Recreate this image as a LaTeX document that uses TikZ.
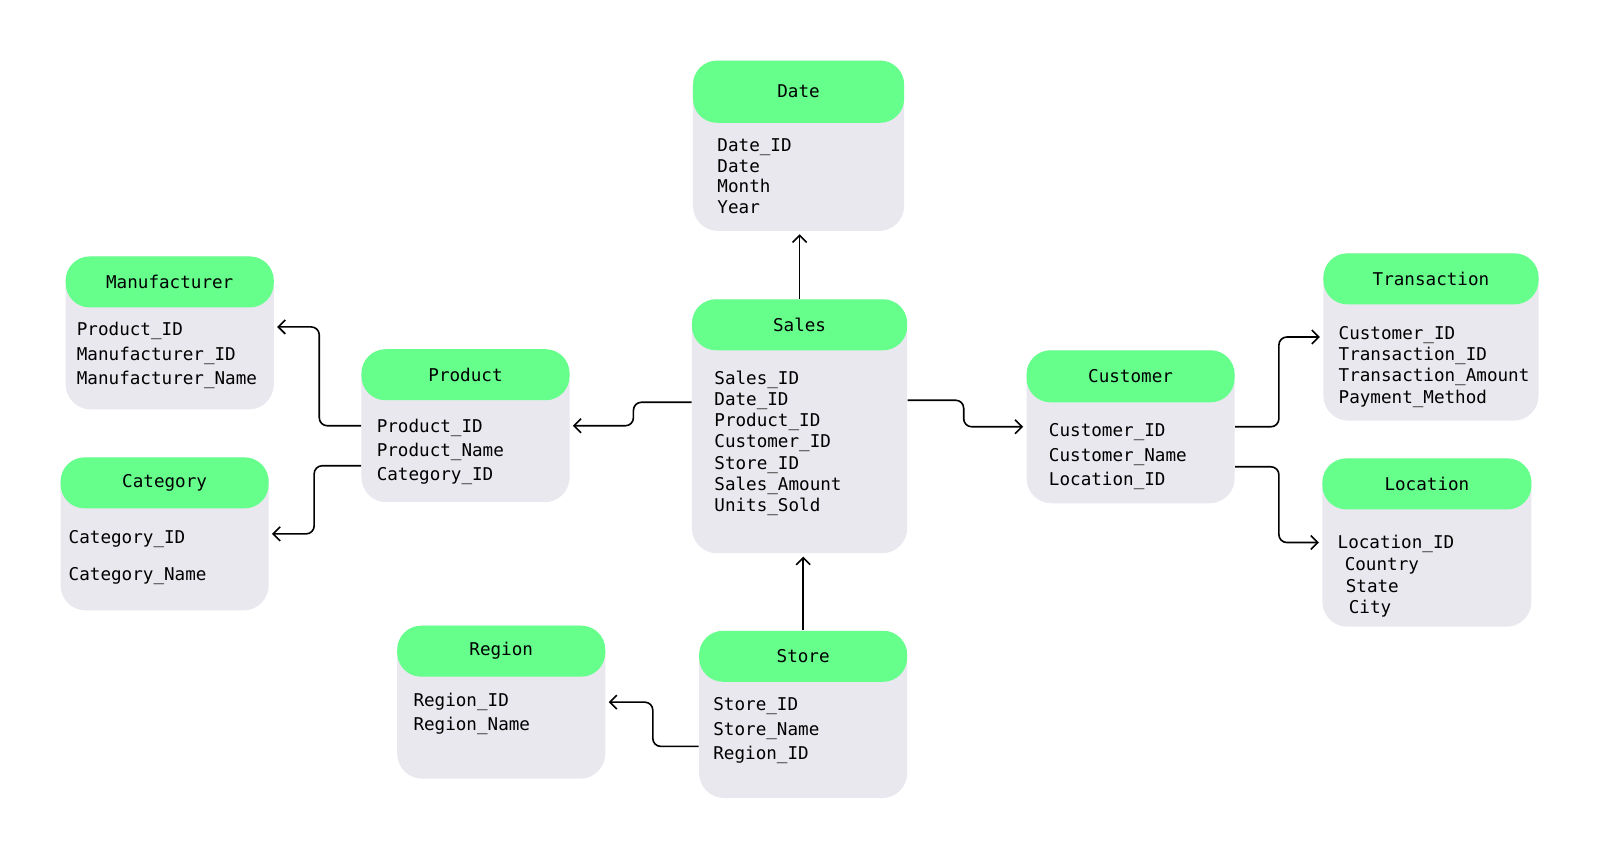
\documentclass[tikz,border=0pt]{standalone}
\usepackage{fontspec}
\setmonofont{DejaVu Sans Mono}
\usetikzlibrary{arrows.meta}
\definecolor{headgreen}{HTML}{66FF8C}
\definecolor{bodygray}{HTML}{E8E8EE}

\begin{document}
\begin{tikzpicture}[x=0.51pt, y=-0.51pt, >={Straight Barb[length=3.5pt,width=7pt]},
    tablebody/.style={fill=bodygray, rounded corners=12.5pt, inner sep=0pt, anchor=north west},
    tablehead/.style={fill=headgreen, rounded corners=12pt, inner sep=0pt, anchor=north west, font=\ttfamily\fontsize{8.8}{10}\selectfont},
    attr/.style={inner sep=0pt, anchor=base west, font=\ttfamily\fontsize{8.8}{10}\selectfont},
    link/.style={->, line width=0.8pt, rounded corners=4pt, shorten >=1.5pt}]

    \useasboundingbox (0,0) rectangle (1568.6,842.2);

    % Tables: name/left/top/width/height/header height/title.
    \foreach \n/\x/\y/\w/\h/\hh/\t in {
        date/679/59/207/167/61/Date,
        sales/678/293/211/249/50/Sales,
        manufacturer/64/251/204/150/50/Manufacturer,
        product/354/342/204/150/50/Product,
        category/59/448/204/150/50/Category,
        region/389/613/204/150/50/Region,
        store/685/618/204/164/50/Store,
        customer/1006/343/204/150/51/Customer,
        transaction/1297/248/211/164/50/Transaction,
        location/1296/449/205/165/50/Location}
    {
        \node[tablebody, minimum width=\w*0.51pt, minimum height=\h*0.51pt] (\n) at (\x,\y) {};
        \node[tablehead, minimum width=\w*0.51pt, minimum height=\hh*0.51pt] (\n-head) at (\x,\y) {\t};
    }

    % Date attributes.
    \foreach \a [count=\i] in {Date\_ID,Date,Month,Year}
        \node[attr] (date-\i) at (703,{149+20*(\i-1)}) {\a};

    % Sales attributes.
    \foreach \a [count=\i] in {Sales\_ID,Date\_ID,Product\_ID,Customer\_ID,Store\_ID,Sales\_Amount,Units\_Sold}
        \node[attr] (sales-\i) at (700,{377+20.7*(\i-1)}) {\a};

    % Manufacturer attributes.
    \foreach \a [count=\i] in {Product\_ID,Manufacturer\_ID,Manufacturer\_Name}
        \node[attr] (manufacturer-\i) at (75,{329+24*(\i-1)}) {\a};

    % Product attributes.
    \foreach \a [count=\i] in {Product\_ID,Product\_Name,Category\_ID}
        \node[attr] (product-\i) at (369,{424+23.5*(\i-1)}) {\a};

    % Category attributes.
    \foreach \a [count=\i] in {Category\_ID,Category\_Name}
        \node[attr] (category-\i) at (67,{533+36*(\i-1)}) {\a};

    % Region attributes.
    \foreach \a [count=\i] in {Region\_ID,Region\_Name}
        \node[attr] (region-\i) at (405,{693+23*(\i-1)}) {\a};

    % Store attributes.
    \foreach \a [count=\i] in {Store\_ID,Store\_Name,Region\_ID}
        \node[attr] (store-\i) at (699,{697+24*(\i-1)}) {\a};

    % Customer attributes.
    \foreach \a [count=\i] in {Customer\_ID,Customer\_Name,Location\_ID}
        \node[attr] (customer-\i) at (1028,{428+24*(\i-1)}) {\a};

    % Transaction attributes.
    \foreach \a [count=\i] in {Customer\_ID,Transaction\_ID,Transaction\_Amount,Payment\_Method}
        \node[attr] (transaction-\i) at (1312,{333+20.7*(\i-1)}) {\a};

    % Location attributes.
    \foreach \a/\dx [count=\i] in {Location\_ID/0,Country/7,State/8,City/11}
        \node[attr] (location-\i) at ({1311+\dx},{538+21.3*(\i-1)}) {\a};

    % Links from the fact table.
    \draw[link] (sales.north) -- (sales.north |- date.south);
    \draw[link] (store.north) -- (store.north |- sales.south);
    \draw[link] ([yshift=12pt]sales.west) -- ++(-57,0) |- (product.east);
    \draw[link] ([yshift=13pt]sales.east) -- ++(55,0) |- (customer.west);

    % Links between dimensions.
    \draw[link] (product.west) -- ++(-41,0) |- ([yshift=3pt]manufacturer.east);
    \draw[link] ([yshift=-20pt]product.west) -- ++(-46,0) |- (category.east);
    \draw[link] (customer.east) -- ++(43,0) |- (transaction.west);
    \draw[link] ([yshift=-20pt]customer.east) -- ++(43,0) |- (location.west);
    \draw[link] ([yshift=-16pt]store.west) -- ++(-45,0) |- (region.east);

\end{tikzpicture}
\end{document}
